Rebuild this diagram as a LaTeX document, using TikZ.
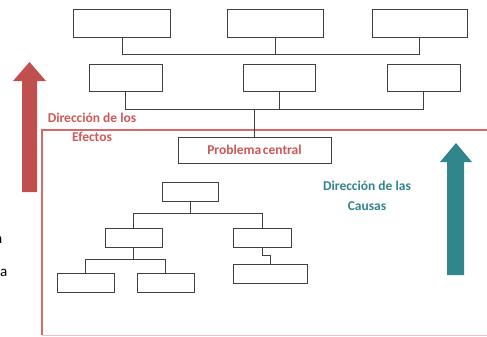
\documentclass[tikz,border=0pt]{standalone}
\usepackage{fontspec}
\setmainfont{Carlito}
\definecolor{redc}{HTML}{C0504D}
\definecolor{redtxt}{HTML}{CF5757}
\definecolor{redline}{HTML}{D46A6A}
\definecolor{tealc}{HTML}{31868C}
\begin{document}
\begin{tikzpicture}[x=1pt,y=-1pt,
  box/.style={draw=black!75,line width=0.9pt,fill=white,inner sep=0pt},
  conn/.style={draw=black!75,line width=0.9pt}]
\useasboundingbox (0,0) rectangle (487,337);
% red frame
\draw[redline,line width=2.4pt] (42,335) -- (42,130) -- (495,130);
\draw[redline!40,line width=1pt] (42,335.5) -- (495,335.5);
% top row
\node[box,minimum width=97pt,minimum height=28pt] (t1) at (122,23) {};
\node[box,minimum width=96pt,minimum height=28pt] (t2) at (275,23) {};
\node[box,minimum width=95pt,minimum height=28pt] (t3) at (419.5,23) {};
\coordinate (bus1) at (0,54);
\draw[conn] (t1.south) -- (t1.south |- bus1) -- (t3.south |- bus1) -- (t3.south);
\draw[conn] (t2.south) -- (t2.south |- bus1);
% second row
\node[box,minimum width=73pt,minimum height=27pt] (m1) at (125.5,77.5) {};
\node[box,minimum width=72pt,minimum height=27pt] (m2) at (279,77.5) {};
\node[box,minimum width=73pt,minimum height=27pt] (m3) at (423.5,77.5) {};
\coordinate (bus2) at (0,109);
\draw[conn] (m1.south) -- (m1.south |- bus2) -- (m3.south |- bus2) -- (m3.south);
\draw[conn] (m2.south) -- (m2.south |- bus2);
% central problem
\node[box,minimum width=153pt,minimum height=26pt,text=redtxt,font=\bfseries\fontsize{13.5}{15}\selectfont] (pc) at (254.5,150) {Problema\hspace{0.12em}central};
\draw[conn] (pc.north) -- (pc.north |- bus2);
% lower tree
\node[box,minimum width=56pt,minimum height=19pt] (b0) at (190,191.5) {};
\node[box,minimum width=57pt,minimum height=19pt] (bL) at (133.5,237.5) {};
\node[box,minimum width=58pt,minimum height=19pt] (bR) at (262,237.5) {};
\coordinate (bus3) at (0,213);
\draw[conn] (b0.south) -- (b0.south |- bus3);
\draw[conn] (bL.north) -- (bL.north |- bus3) -- (bR.north |- bus3) -- (bR.north);
\node[box,minimum width=57pt,minimum height=19pt] (LL) at (85.5,282.5) {};
\node[box,minimum width=57pt,minimum height=19pt] (LR) at (165.5,282.5) {};
\coordinate (bus4) at (0,259);
\draw[conn] (bL.south) -- (bL.south |- bus4);
\draw[conn] (LL.north) -- (LL.north |- bus4) -- (LR.north |- bus4) -- (LR.north);
\node[box,minimum width=74pt,minimum height=19pt] (RR) at (270,273.5) {};
\draw[conn] (bR.south) -- ++(0,8) -| (RR.north);
% arrows
\fill[redc] (22,192) -- (22,81) -- (13,81) -- (29.5,62) -- (46,81) -- (37,81) -- (37,192) -- cycle;
\fill[tealc] (447,275) -- (447,162) -- (440,162) -- (456,143) -- (472,162) -- (464,162) -- (464,275) -- cycle;
% labels
\node[text=redtxt,font=\bfseries\fontsize{13.5}{19}\selectfont,align=center,inner sep=0pt] (le) at (92,127.5) {Dirección de los\\Efectos};
\node[text=tealc,font=\bfseries\fontsize{13.5}{20}\selectfont,align=center,inner sep=0pt] (lc) at (367,196) {Dirección de las\\Causas};
% cut-off text at left edge
\node[anchor=base east,inner sep=0pt,font=\fontsize{15}{17}\selectfont] (cut1) at (2.5,243) {n};
\node[anchor=base east,inner sep=0pt,font=\fontsize{15}{17}\selectfont] (cut2) at (7.5,276) {a};
\end{tikzpicture}
\end{document}
